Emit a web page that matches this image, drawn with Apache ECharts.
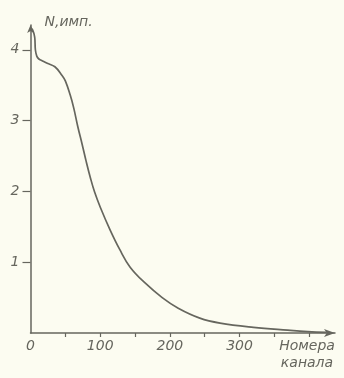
<!DOCTYPE html>
<html>
<head>
<meta charset="utf-8">
<script src="https://cdn.jsdelivr.net/npm/echarts@6/dist/echarts.min.js"></script>
<style>
html,body{margin:0;padding:0;background:#fcfcf1;}
#c{width:344px;height:378px;}
</style>
</head>
<body>
<div id="c"></div>
<script>
var channels = [0, 3, 6, 7, 9, 12, 16, 24, 35, 45, 50, 57, 62, 68, 74, 80, 86, 92, 100, 114, 128, 143, 164, 189, 212, 243, 272, 320, 369, 398, 425];
var counts   = [4.31, 4.28, 4.18, 4.0, 3.91, 3.87, 3.85, 3.81, 3.76, 3.64, 3.56, 3.36, 3.18, 2.91, 2.67, 2.42, 2.19, 1.99, 1.78, 1.46, 1.18, 0.93, 0.71, 0.5, 0.35, 0.21, 0.14, 0.08, 0.04, 0.02, 0.01];
var xTicks = [50, 100, 150, 200, 250, 300, 350, 400];
var xLabels = [0, 100, 200, 300];
var yTicks = [1, 2, 3, 4];
var xName = 'Номера\nканала';
var yName = 'N,имп.';

var ink = '#66665e';
var font = {fontFamily: 'DejaVu Sans', fontStyle: 'italic', fontSize: 14, color: ink};

var chart = echarts.init(document.getElementById('c'), null, {renderer: 'canvas'});
chart.setOption({
  backgroundColor: '#fcfcf1',
  animation: false,
  grid: {left: 30.5, right: 9, top: 25, bottom: 45, containLabel: false},
  xAxis: {
    type: 'value', min: 0, max: 437,
    splitLine: {show: false},
    axisLine: {show: true, lineStyle: {color: ink, width: 1.5}, symbol: ['none', 'arrow'], symbolSize: [6, 11]},
    axisTick: {show: true, length: 4, inside: false, customValues: xTicks, lineStyle: {color: ink, width: 1.2}},
    axisLabel: Object.assign({customValues: xLabels, margin: 6}, font),
    name: xName, nameLocation: 'end', nameGap: -28,
    nameTextStyle: Object.assign({align: 'center', verticalAlign: 'top', lineHeight: 17, padding: [5, 0, 0, 0]}, font)
  },
  yAxis: {
    type: 'value', min: 0, max: 4.35,
    splitLine: {show: false},
    axisLine: {show: true, lineStyle: {color: ink, width: 1.5}, symbol: ['none', 'arrow'], symbolSize: [5, 8]},
    axisTick: {show: true, length: 8, inside: false, customValues: yTicks, lineStyle: {color: ink, width: 1.2}},
    axisLabel: Object.assign({customValues: yTicks, margin: 11}, font),
    name: yName, nameLocation: 'end', nameGap: 3,
    nameTextStyle: Object.assign({align: 'left', verticalAlign: 'middle', padding: [0, 0, 0, 14]}, font)
  },
  series: [{
    type: 'line',
    data: channels.map(function (c, i) { return [c, counts[i]]; }),
    smooth: 0.4,
    showSymbol: false,
    lineStyle: {color: ink, width: 1.7}
  }]
});
</script>
</body>
</html>
